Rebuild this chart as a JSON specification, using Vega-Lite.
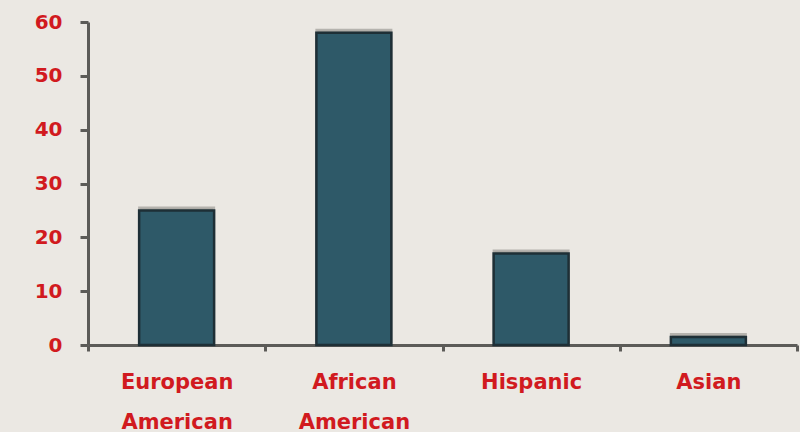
{
  "$schema": "https://vega.github.io/schema/vega-lite/v6.json",
  "autosize": "none",
  "width": 709,
  "height": 323,
  "padding": {"left": 88, "top": 22, "right": 3, "bottom": 87},
  "background": "#ebe8e3",
  "config": {
    "view": {"stroke": null},
    "font": "DejaVu Sans"
  },
  "data": {
    "values": [
      {"group": "European American", "percent": 25},
      {"group": "African American", "percent": 58},
      {"group": "Hispanic", "percent": 17},
      {"group": "Asian", "percent": 1.5}
    ]
  },
  "encoding": {
    "x": {
      "field": "group",
      "type": "nominal",
      "sort": null,
      "scale": {"paddingInner": 0, "paddingOuter": 0},
      "axis": {
        "title": null,
        "labelAngle": 0,
        "labelExpr": "split(datum.label, ' ')",
        "labelFont": "DejaVu Sans",
        "labelFontWeight": "bold",
        "labelFontSize": 21,
        "labelColor": "#d11a1f",
        "labelLineHeight": 40,
        "labelPadding": 20,
        "tickBand": "extent",
        "tickSize": 6,
        "tickWidth": 3,
        "tickColor": "#5c5b58",
        "domainColor": "#5c5b58",
        "domainWidth": 3
      }
    },
    "y": {
      "field": "percent",
      "type": "quantitative",
      "scale": {"domain": [0, 60], "nice": false},
      "axis": {
        "title": null,
        "values": [0, 10, 20, 30, 40, 50, 60],
        "grid": false,
        "labelFont": "DejaVu Sans",
        "labelFontWeight": "bold",
        "labelFontSize": 20,
        "labelColor": "#d11a1f",
        "labelPadding": 18,
        "tickSize": 8,
        "tickWidth": 3,
        "tickColor": "#5c5b58",
        "domainColor": "#5c5b58",
        "domainWidth": 3
      }
    }
  },
  "layer": [
    {
      "mark": {"type": "bar", "width": {"band": 0.423}, "color": "#6f6d69", "opacity": 0.55, "yOffset": -3, "stroke": "#8a8884", "strokeWidth": 2}
    },
    {
      "mark": {"type": "bar", "width": {"band": 0.423}, "color": "#2e5968", "stroke": "#1e2f36", "strokeWidth": 2.5}
    }
  ]
}
